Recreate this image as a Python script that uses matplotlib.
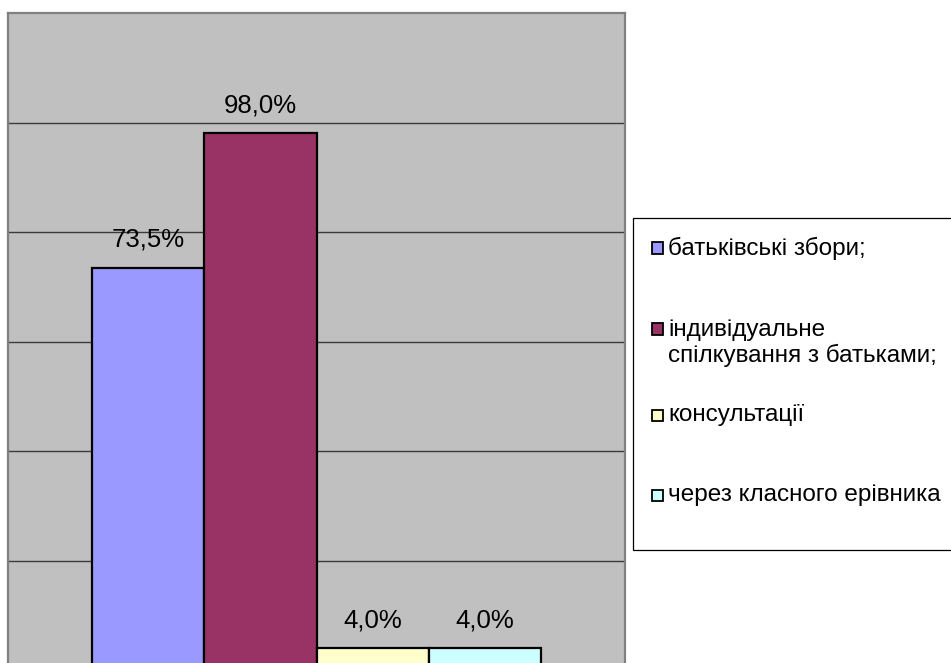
#!/usr/bin/env python3
"""
Bar chart: forms of work with parents (share of respondents, %).
"""

import matplotlib.pyplot as plt
from matplotlib.patches import Rectangle

plt.rcParams["font.family"] = ["Liberation Sans", "DejaVu Sans"]

CATEGORIES = [
    "батьківські збори;",
    "індивідуальне\nспілкування з батьками;",
    "консультації",
    "через класного ерівника",
]
VALUES = [73.5, 98.0, 4.0, 4.0]
COLORS = ["#9999FF", "#993366", "#FFFFCC", "#CCFFFF"]
Y_TICKS = [20, 40, 60, 80, 100]

W, H = 951, 663
DPI = 100


def fx(px):
    return px / W


def fy(py):
    return 1 - py / H


def main() -> None:
    fig = plt.figure(figsize=(W / DPI, H / DPI), dpi=DPI)

    # plot area: x 8..625 px, top 13 px, zero line ~670 px (just below the image)
    left, right, top, bottom = 8, 625, 13, 670
    ax = fig.add_axes([fx(left), fy(bottom), fx(right - left), (bottom - top) / H])
    ax.set_facecolor("#C0C0C0")
    ax.set_ylim(0, 120)
    ax.set_xlim(-0.75 - 0.5, len(VALUES) - 1 + 0.5 + 0.75)

    for y in Y_TICKS:
        ax.axhline(y, color="#3a3a3a", linewidth=1.0, zorder=1)

    xs = list(range(len(VALUES)))
    bars = ax.bar(xs, VALUES, width=1.0, color=COLORS, edgecolor="black",
                  linewidth=1.6, zorder=3)
    for b, v in zip(bars, VALUES):
        ax.annotate(
            f"{v:.1f}%".replace(".", ","),
            (b.get_x() + b.get_width() / 2, v),
            textcoords="offset points",
            xytext=(0, 11.5),
            ha="center",
            va="bottom",
            fontsize=18.5,
            color="black",
            zorder=4,
        )

    ax.set_xticks([])
    ax.set_yticks([])
    for s in ax.spines.values():
        s.set_color("#808080")
        s.set_linewidth(1.6)

    # legend box, drawn in pixel-derived figure coordinates
    fig.patches.append(Rectangle((fx(633), fy(550)), fx(400), (550 - 218) / H,
                                 transform=fig.transFigure, facecolor="white",
                                 edgecolor="black", linewidth=0.9))
    entry_y = [248, 343, 415, 495]
    marker_y = [248, 329, 415, 495]
    for label, color, ty, my in zip(CATEGORIES, COLORS, entry_y, marker_y):
        fig.patches.append(Rectangle((fx(652), fy(my + 5.5)), fx(11), 11 / H,
                                     transform=fig.transFigure, facecolor=color,
                                     edgecolor="black", linewidth=1.3))
        fig.text(fx(668), fy(ty), label, ha="left", va="center", fontsize=17.5,
                 linespacing=1.15, color="black")

    fig.savefig("out.png", dpi=DPI)
    plt.close(fig)


if __name__ == "__main__":
    main()
